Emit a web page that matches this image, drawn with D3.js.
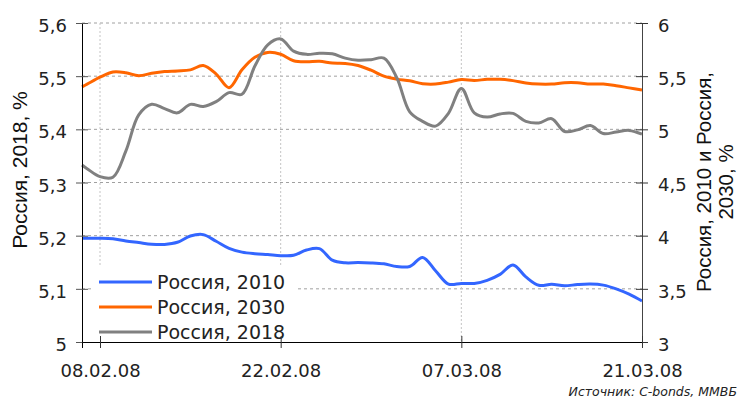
<!DOCTYPE html>
<html>
<head>
<meta charset="utf-8">
<script src="https://cdn.jsdelivr.net/npm/d3@7"></script>
<style>
  body { margin: 0; background: #fff; }
  svg { display: block; }
</style>
</head>
<body>
<svg id="plot"></svg>
<script>
// Data
const dates = [
    '06.02.08 14:30', '07.02.08', '08.02.08', '09.02.08', '10.02.08', '11.02.08', '12.02.08',
    '13.02.08', '14.02.08', '15.02.08', '16.02.08', '17.02.08', '18.02.08', '19.02.08',
    '20.02.08', '21.02.08', '22.02.08', '23.02.08', '24.02.08', '25.02.08', '26.02.08',
    '27.02.08', '28.02.08', '29.02.08', '01.03.08', '02.03.08', '03.03.08', '04.03.08',
    '05.03.08', '06.03.08', '07.03.08', '08.03.08', '09.03.08', '10.03.08', '11.03.08',
    '12.03.08', '13.03.08', '14.03.08', '15.03.08', '16.03.08', '17.03.08', '18.03.08',
    '19.03.08', '20.03.08', '21.03.08'
];

// right axis
const russia2010 = [
    3.975, 3.975, 3.975, 3.97, 3.95, 3.935, 3.92, 3.918, 3.938, 3.997, 4.01, 3.947,
    3.88, 3.845, 3.83, 3.822, 3.812, 3.815, 3.865, 3.878, 3.77, 3.745, 3.747, 3.744,
    3.735, 3.71, 3.71, 3.795, 3.67, 3.545, 3.551, 3.551, 3.58, 3.636, 3.724, 3.612,
    3.533, 3.542, 3.529, 3.54, 3.545, 3.535, 3.50, 3.45, 3.385
];
// right axis
const russia2030 = [
    5.40, 5.425, 5.49, 5.54, 5.533, 5.505, 5.527, 5.543, 5.549, 5.559, 5.60, 5.52,
    5.392, 5.56, 5.677, 5.723, 5.706, 5.645, 5.635, 5.64, 5.623, 5.62, 5.60, 5.556,
    5.50, 5.472, 5.456, 5.429, 5.426, 5.444, 5.468, 5.46, 5.47, 5.47, 5.458, 5.436,
    5.426, 5.426, 5.438, 5.438, 5.426, 5.426, 5.41, 5.39, 5.37
];
// left axis
const russia2018 = [
    5.333, 5.326, 5.311, 5.310, 5.359, 5.427, 5.447, 5.439, 5.431, 5.447, 5.443, 5.452,
    5.469, 5.466, 5.519, 5.559, 5.57, 5.547, 5.541, 5.543, 5.542, 5.534, 5.530, 5.531,
    5.534, 5.497, 5.433, 5.415, 5.406, 5.43, 5.477, 5.431, 5.423, 5.429, 5.43, 5.415,
    5.412, 5.42, 5.396, 5.399, 5.407, 5.392, 5.395, 5.398, 5.391
];

const xTicks = ['08.02.08', '22.02.08', '07.03.08', '21.03.08'];
const leftTicks = [5, 5.1, 5.2, 5.3, 5.4, 5.5, 5.6];
const leftTickLabels = ['5', '5,1', '5,2', '5,3', '5,4', '5,5', '5,6'];
const rightTicks = [3, 3.5, 4, 4.5, 5, 5.5, 6];
const rightTickLabels = ['3', '3,5', '4', '4,5', '5', '5,5', '6'];

const seriesNames = ['Россия, 2010', 'Россия, 2030', 'Россия, 2018'];
const seriesColors = ['#3366ff', '#ff6600', '#808080'];

let width = 738;
let height = 400;
let plot = { left: 82, right: 642, top: 23, bottom: 342 };

let svg = d3.select('#plot')
    .attr('width', width)
    .attr('height', height);

const parseFull = d3.timeParse('%d.%m.%y %H:%M');
const parseDay = d3.timeParse('%d.%m.%y');
const parse = s => parseFull(s) || parseDay(s);

const xDates = dates.map(parse);

let x = d3.scaleTime()
    .domain([xDates[0], xDates[xDates.length - 1]])
    .range([plot.left, plot.right]);

let yLeft = d3.scaleLinear()
    .domain([5, 5.6])
    .range([plot.bottom, plot.top]);

let yRight = d3.scaleLinear()
    .domain([3, 6])
    .range([plot.bottom, plot.top]);

// Gridlines
svg.append('g')
    .selectAll('line')
    .data(leftTicks.slice(1))
    .enter()
    .append('line')
    .attr('x1', plot.left)
    .attr('x2', plot.right)
    .attr('y1', d => yLeft(d))
    .attr('y2', d => yLeft(d))
    .attr('stroke', '#a0a0a0')
    .attr('stroke-dasharray', '3,3');

svg.append('g')
    .selectAll('line')
    .data(xTicks.slice(0, -1).map(parse))
    .enter()
    .append('line')
    .attr('x1', d => x(d))
    .attr('x2', d => x(d))
    .attr('y1', plot.top)
    .attr('y2', plot.bottom)
    .attr('stroke', '#c4c4c4')
    .attr('stroke-dasharray', '2,2');

// Lines
let series = [
    { values: russia2010, scale: yRight },
    { values: russia2030, scale: yRight },
    { values: russia2018, scale: yLeft }
];

series.forEach(function(s, i) {
    let line = d3.line()
        .x((d, j) => x(xDates[j]))
        .y(d => s.scale(d))
        .curve(d3.curveCatmullRom.alpha(0.5));
    svg.append('path')
        .datum(s.values)
        .attr('fill', 'none')
        .attr('stroke', seriesColors[i])
        .attr('stroke-width', 3)
        .attr('stroke-linejoin', 'round')
        .attr('d', line);
});

// Legend
svg.append('rect')
    .attr('x', 92)
    .attr('y', 266)
    .attr('width', 204)
    .attr('height', 75)
    .attr('fill', '#fff');

let legend = svg.selectAll('.legend')
    .data(seriesNames)
    .enter()
    .append('g')
    .attr('class', 'legend')
    .attr('transform', (d, i) => `translate(99, ${282 + i * 25})`);

legend.append('line')
    .attr('x1', 0)
    .attr('x2', 53)
    .attr('stroke', (d, i) => seriesColors[i])
    .attr('stroke-width', 3);

legend.append('text')
    .attr('x', 58)
    .attr('dy', '0.38em')
    .style('font-family', 'DejaVu Sans')
    .style('font-size', '19px')
    .attr('fill', '#222')
    .text(d => d);

// Axes
function crossTicks(g, inner, outer) {
    g.selectAll('.tick line').attr('x1', inner).attr('x2', outer);
}

svg.append('g')
    .attr('transform', `translate(${plot.left}, 0)`)
    .call(d3.axisLeft(yLeft)
        .tickValues(leftTicks)
        .tickFormat((d, i) => leftTickLabels[i])
        .tickSize(6)
        .tickPadding(9))
    .call(g => crossTicks(g, 6, -6))
    .call(g => g.select('.domain').attr('stroke', '#000'))
    .call(g => g.selectAll('.tick line').attr('stroke', '#555'))
    .call(g => g.selectAll('text')
        .attr('dy', '0.48em')
        .attr('fill', '#222')
        .style('font-family', 'DejaVu Sans')
        .style('font-size', '18px'));

svg.append('g')
    .attr('transform', `translate(${plot.right}, 0)`)
    .call(d3.axisRight(yRight)
        .tickValues(rightTicks)
        .tickFormat((d, i) => rightTickLabels[i])
        .tickSize(6)
        .tickPadding(10))
    .call(g => crossTicks(g, -6, 6))
    .call(g => g.select('.domain').attr('stroke', '#444'))
    .call(g => g.selectAll('.tick line').attr('stroke', '#333'))
    .call(g => g.selectAll('text')
        .attr('dy', '0.46em')
        .attr('fill', '#222')
        .style('font-family', 'DejaVu Sans')
        .style('font-size', '18px'));

svg.append('g')
    .attr('transform', `translate(0, ${plot.bottom})`)
    .call(d3.axisBottom(x)
        .tickValues(xTicks.map(parse))
        .tickFormat((d, i) => xTicks[i])
        .tickSize(6)
        .tickPadding(16))
    .call(g => g.selectAll('.tick line').attr('y1', -6).attr('y2', 6).attr('stroke', '#333'))
    .call(g => g.select('.domain').attr('stroke', '#000'))
    .call(g => g.selectAll('text')
        .attr('fill', '#222')
        .style('font-family', 'DejaVu Sans')
        .style('font-size', '18px'));

// Axis titles
svg.append('text')
    .attr('transform', 'translate(27, 170) rotate(-90)')
    .attr('text-anchor', 'middle')
    .style('font-family', 'Liberation Sans')
    .style('font-size', '21px')
    .attr('fill', '#111')
    .text('Россия, 2018, %');

let rightTitle = svg.append('text')
    .attr('transform', 'translate(711, 182) rotate(-90)')
    .attr('text-anchor', 'middle')
    .style('font-family', 'Liberation Sans')
    .style('font-size', '20.5px')
    .attr('fill', '#111');
rightTitle.append('tspan').attr('x', 0).attr('y', 0).text('Россия, 2010 и Россия,');
rightTitle.append('tspan').attr('x', 0).attr('y', 22).text('2030, %');

// Source
svg.append('text')
    .attr('x', 737)
    .attr('y', 396)
    .attr('text-anchor', 'end')
    .style('font-family', 'DejaVu Sans')
    .style('font-style', 'italic')
    .style('font-size', '12.5px')
    .attr('fill', '#222')
    .text('Источник: C-bonds, ММВБ');
</script>
</body>
</html>
